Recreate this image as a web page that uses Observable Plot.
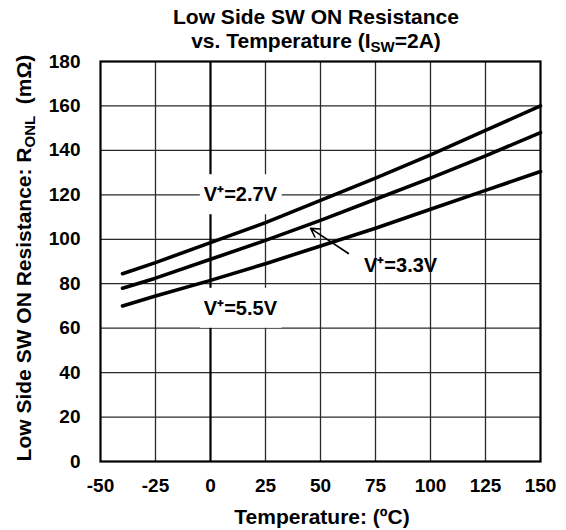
<!DOCTYPE html>
<html>
<head>
<meta charset="utf-8">
<script src="https://cdn.jsdelivr.net/npm/d3@7"></script>
<script src="https://cdn.jsdelivr.net/npm/@observablehq/plot@0.6"></script>
<style>
  body { margin: 0; background: #fff; }
  #chart svg { display: block; }
</style>
</head>
<body>
<div id="chart"></div>
<script>
// ---- data ----
const temps = [-40, -25, 0, 25, 50, 75, 100, 125, 150];
const r27 = [84.5, 89.5, 98.5, 107.5, 117.5, 127.5, 138, 149, 160];
const r33 = [78, 82.5, 91, 99.5, 108.5, 118, 127.5, 137.5, 148];
const r55 = [70, 74.5, 81.5, 89, 97, 105, 113.5, 122, 130.5];
const seriesNames = ["2.7V", "3.3V", "5.5V"];
const xTicks = [-50, -25, 0, 25, 50, 75, 100, 125, 150];
const yTicks = [0, 20, 40, 60, 80, 100, 120, 140, 160, 180];
const labelText = ["V\u207A=2.7V", "V\u207A=5.5V", "V\u207A=3.3V"];
const labelX = [13.6, 13.6, 86.4];
const labelY = [120, 68.9, 88.2];
const labelBox = [true, true, false];
const arrowFrom = [62.7, 93.6];
const arrowTo = [45.5, 104.9];

const seriesVals = [r27, r33, r55];
const rows = [];
seriesNames.forEach((s, i) => temps.forEach((t, j) => rows.push({series: s, t, r: seriesVals[i][j]})));
const labels = labelText.map((text, i) => ({text, x: labelX[i], y: labelY[i], box: labelBox[i]}));

const FONT = "'Liberation Sans', Arial, Helvetica, sans-serif";

const plot = Plot.plot({
  width: 566,
  height: 530,
  marginLeft: 100,
  marginRight: 26,
  marginTop: 61,
  marginBottom: 69,
  style: {fontFamily: FONT, color: "#000", background: "#fff"},
  x: {domain: [-50, 150]},
  y: {domain: [0, 180]},
  marks: [
    Plot.gridX(xTicks.filter(d => d !== 0 && d !== -50 && d !== 150), {stroke: "#2a2a2a", strokeOpacity: 1, strokeWidth: 1.3}),
    Plot.gridY(yTicks.filter(d => d !== 0 && d !== 180), {stroke: "#2a2a2a", strokeOpacity: 1, strokeWidth: 1.3}),
    Plot.ruleX([0], {stroke: "#000", strokeWidth: 2.2}),
    Plot.frame({stroke: "#000", strokeWidth: 2.2}),
    Plot.line(rows, {x: "t", y: "r", z: "series", stroke: "#000", strokeWidth: 3.6}),
    Plot.text(labels, {x: "x", y: "y", text: "text", fontSize: 20, fontWeight: "bold", fill: "#000"}),
    Plot.arrow([{x1: arrowFrom[0], y1: arrowFrom[1], x2: arrowTo[0], y2: arrowTo[1]}],
      {x1: "x1", y1: "y1", x2: "x2", y2: "y2", stroke: "#000", strokeWidth: 1.6, headLength: 9}),
    Plot.axisX(xTicks, {tickSize: 0, tickPadding: 17, fontSize: 19, fontWeight: "bold", label: null, tickFormat: d => String(d)}),
    Plot.axisY(yTicks, {tickSize: 0, tickPadding: 20, fontSize: 19, fontWeight: "bold", label: null, tickFormat: d => String(d)})
  ]
});

document.getElementById("chart").appendChild(plot);
const svg = d3.select(plot);

// white boxes behind the boxed labels
svg.selectAll('g[aria-label="text"] text').each(function(d, i) {
  const lab = labels[i];
  if (!lab || !lab.box) return;
  const bb = this.getBBox();
  const r = d3.select(this.parentNode).insert("rect", () => this)
    .attr("x", bb.x - 4).attr("y", bb.y - 9)
    .attr("width", bb.width + 8).attr("height", bb.height + 18)
    .attr("fill", "#fff");
  const tf = this.getAttribute("transform");
  if (tf) r.attr("transform", tf);
});

// title
const title = svg.append("g").attr("font-family", FONT).attr("font-weight", "bold").attr("font-size", 21).attr("text-anchor", "middle").attr("fill", "#000");
title.append("text").attr("x", 316).attr("y", 24).text("Low Side SW ON Resistance");
const t2 = title.append("text").attr("x", 316).attr("y", 48);
t2.append("tspan").text("vs. Temperature (I");
t2.append("tspan").attr("font-size", 15).attr("dy", 4).text("SW");
t2.append("tspan").attr("dy", -4).text("=2A)");

// x label
svg.append("text").attr("font-family", FONT).attr("font-weight", "bold").attr("font-size", 21)
  .attr("text-anchor", "middle").attr("x", 322).attr("y", 524).attr("fill", "#000")
  .text("Temperature: (\u00BAC)");

// y label
const yl = svg.append("text").attr("font-family", FONT).attr("font-weight", "bold").attr("font-size", 21)
  .attr("text-anchor", "middle").attr("fill", "#000")
  .attr("transform", "translate(31,258) rotate(-90)");
yl.append("tspan").text("Low Side SW ON Resistance: R");
yl.append("tspan").attr("font-size", 15).attr("dy", 4).text("ONL");
yl.append("tspan").attr("dy", -4).text("\u00A0\u00A0(m\u03A9)");
</script>
</body>
</html>
